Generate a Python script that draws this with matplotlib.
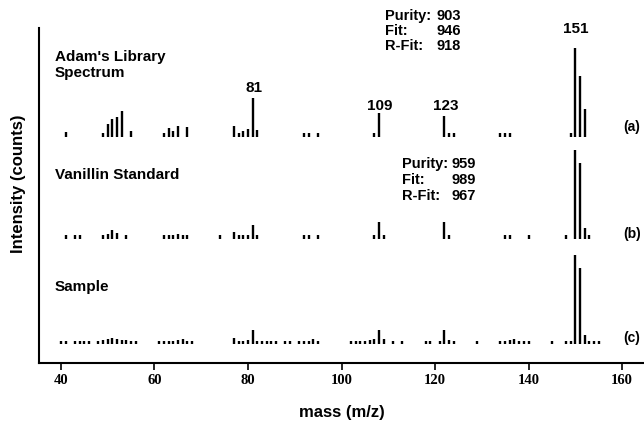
import numpy as np
import matplotlib
matplotlib.use('Agg')
import matplotlib.pyplot as plt

# (a) Adam's library spectrum
lib_mz = [41, 49, 50, 51, 52, 53, 55, 62, 63, 64, 65, 67, 77, 78, 79, 80, 81, 82,
          92, 93, 95, 107, 108, 122, 123, 124, 134, 135, 136, 149, 150, 151, 152]
lib_int = [6, 5, 15, 20, 22, 29, 7, 5, 10, 7, 12, 11, 12, 4, 7, 9, 44, 8,
           5, 5, 5, 5, 27, 24, 4, 4, 4, 4, 4, 5, 100, 68, 31]

# (b) vanillin standard
std_mz = [41, 43, 44, 49, 50, 51, 52, 54, 62, 63, 64, 65, 66, 67, 74, 77, 78, 79, 80, 81, 82,
          92, 93, 95, 107, 108, 109, 122, 123, 135, 136, 140, 148, 150, 151, 152, 153]
std_int = [4, 4, 4, 4, 6, 10, 7, 4, 4, 4, 4, 6, 4, 5, 4, 8, 4, 4, 5, 16, 5,
           4, 4, 4, 5, 19, 4, 19, 4, 4, 4, 4, 4, 100, 85, 12, 4]

# (c) sample
smp_mz = [40, 41, 43, 44, 45, 46, 48, 49, 50, 51, 52, 53, 54, 55, 56,
          61, 62, 63, 64, 65, 66, 67, 68,
          77, 78, 79, 80, 81, 82, 83, 84, 85, 86, 88, 89, 91, 92, 93, 94, 95,
          102, 103, 104, 105, 106, 107, 108, 109, 111, 113,
          118, 119, 121, 122, 123, 124, 129,
          134, 135, 136, 137, 138, 139, 140, 145,
          148, 149, 150, 151, 152, 153, 154, 155]
smp_int = [3, 3, 3, 3, 3, 3, 3, 4, 6, 7, 6, 5, 4, 3, 3,
           3, 3, 3, 3, 4, 6, 3, 3,
           7, 3, 3, 4, 16, 3, 3, 3, 3, 3, 3, 3, 3, 3, 3, 6, 3,
           3, 3, 3, 3, 4, 6, 16, 6, 3, 3,
           3, 3, 3, 16, 5, 3, 3,
           3, 3, 4, 6, 3, 3, 3, 3,
           3, 3, 100, 85, 10, 3, 3, 3]

names = ["Adam's Library\nSpectrum", "Vanillin Standard", "Sample"]
tags = ['(a)', '(b)', '(c)']
lib_stats = ['903', '946', '918']
std_stats = ['959', '989', '967']
stat_names = ['Purity:', 'Fit:', 'R-Fit:']
peak_mz = [81, 108, 122, 150]
peak_text = ['81', '109', '123', '151']

sans = 'Liberation Sans'
serif = 'Liberation Serif'

fig = plt.figure(figsize=(6.44, 4.24), dpi=100)
ax = fig.add_axes([39 / 644, 61 / 424, 605 / 644, 335 / 424])
ax.set_xlim(35.3, 164.7)
ax.set_ylim(0, 335)

scale = 0.89            # 100 % -> 89 px
bases = [226, 124, 19]  # baseline of each trace

for mz, inten, base in zip([lib_mz, std_mz, smp_mz], [lib_int, std_int, smp_int], bases):
    ax.vlines(mz, base, base + scale * np.array(inten), color='black', lw=1.7)

# peak labels on library spectrum
pads = [6, 3, 6, 15]
for m, t, p in zip(peak_mz, peak_text, pads):
    top = bases[0] + scale * lib_int[lib_mz.index(m)]
    ax.text(m + 0.2, top + p, t, ha='center', va='baseline',
            fontsize=11, fontweight='bold', family=sans)

# trace names
ax.text(38.7, 302, "Adam's Library", fontsize=11, fontweight='bold', family=sans, va='baseline')
ax.text(38.7, 286, "Spectrum", fontsize=11, fontweight='bold', family=sans, va='baseline')
ax.text(38.7, 184, names[1], fontsize=11, fontweight='bold', family=sans, va='baseline')
ax.text(38.7, 72, names[2], fontsize=11, fontweight='bold', family=sans, va='baseline')

# match statistics
for i, (s, v) in enumerate(zip(stat_names, lib_stats)):
    y = 347 - 15 * i
    ax.text(109.2, y, s, fontsize=10.5, fontweight='bold', family=sans, va='center')
    ax.text(120.4, y, v, fontsize=10.5, fontweight='bold', family=sans, va='center')
for i, (s, v) in enumerate(zip(stat_names, std_stats)):
    y = 199 - 16 * i
    ax.text(113.0, y, s, fontsize=10.5, fontweight='bold', family=sans, va='center')
    ax.text(123.6, y, v, fontsize=10.5, fontweight='bold', family=sans, va='center')

# trace tags on the right
for t, y in zip(tags, [236, 129, 25]):
    ax.text(162.1, y, t, fontsize=10, fontweight='bold', family=sans,
            ha='center', va='center')

ax.spines['top'].set_visible(False)
ax.spines['right'].set_visible(False)
ax.spines['left'].set_linewidth(1.5)
ax.spines['bottom'].set_linewidth(1.5)
ax.set_yticks([])
ax.set_xticks([40, 60, 80, 100, 120, 140, 160])
ax.tick_params(axis='x', direction='out', length=5, width=1.2, pad=3)
for lab in ax.get_xticklabels():
    lab.set_fontfamily(serif)
    lab.set_fontweight('bold')
    lab.set_fontsize(10.5)

ax.set_xlabel('mass (m/z)', fontsize=12, fontweight='bold', family=sans)
ax.xaxis.set_label_coords(0.501, -0.125)
ax.set_ylabel('Intensity (counts)', fontsize=12, fontweight='bold', family=sans)
ax.yaxis.set_label_coords(-0.0215, 0.534)

fig.savefig('out.png', dpi=100)
